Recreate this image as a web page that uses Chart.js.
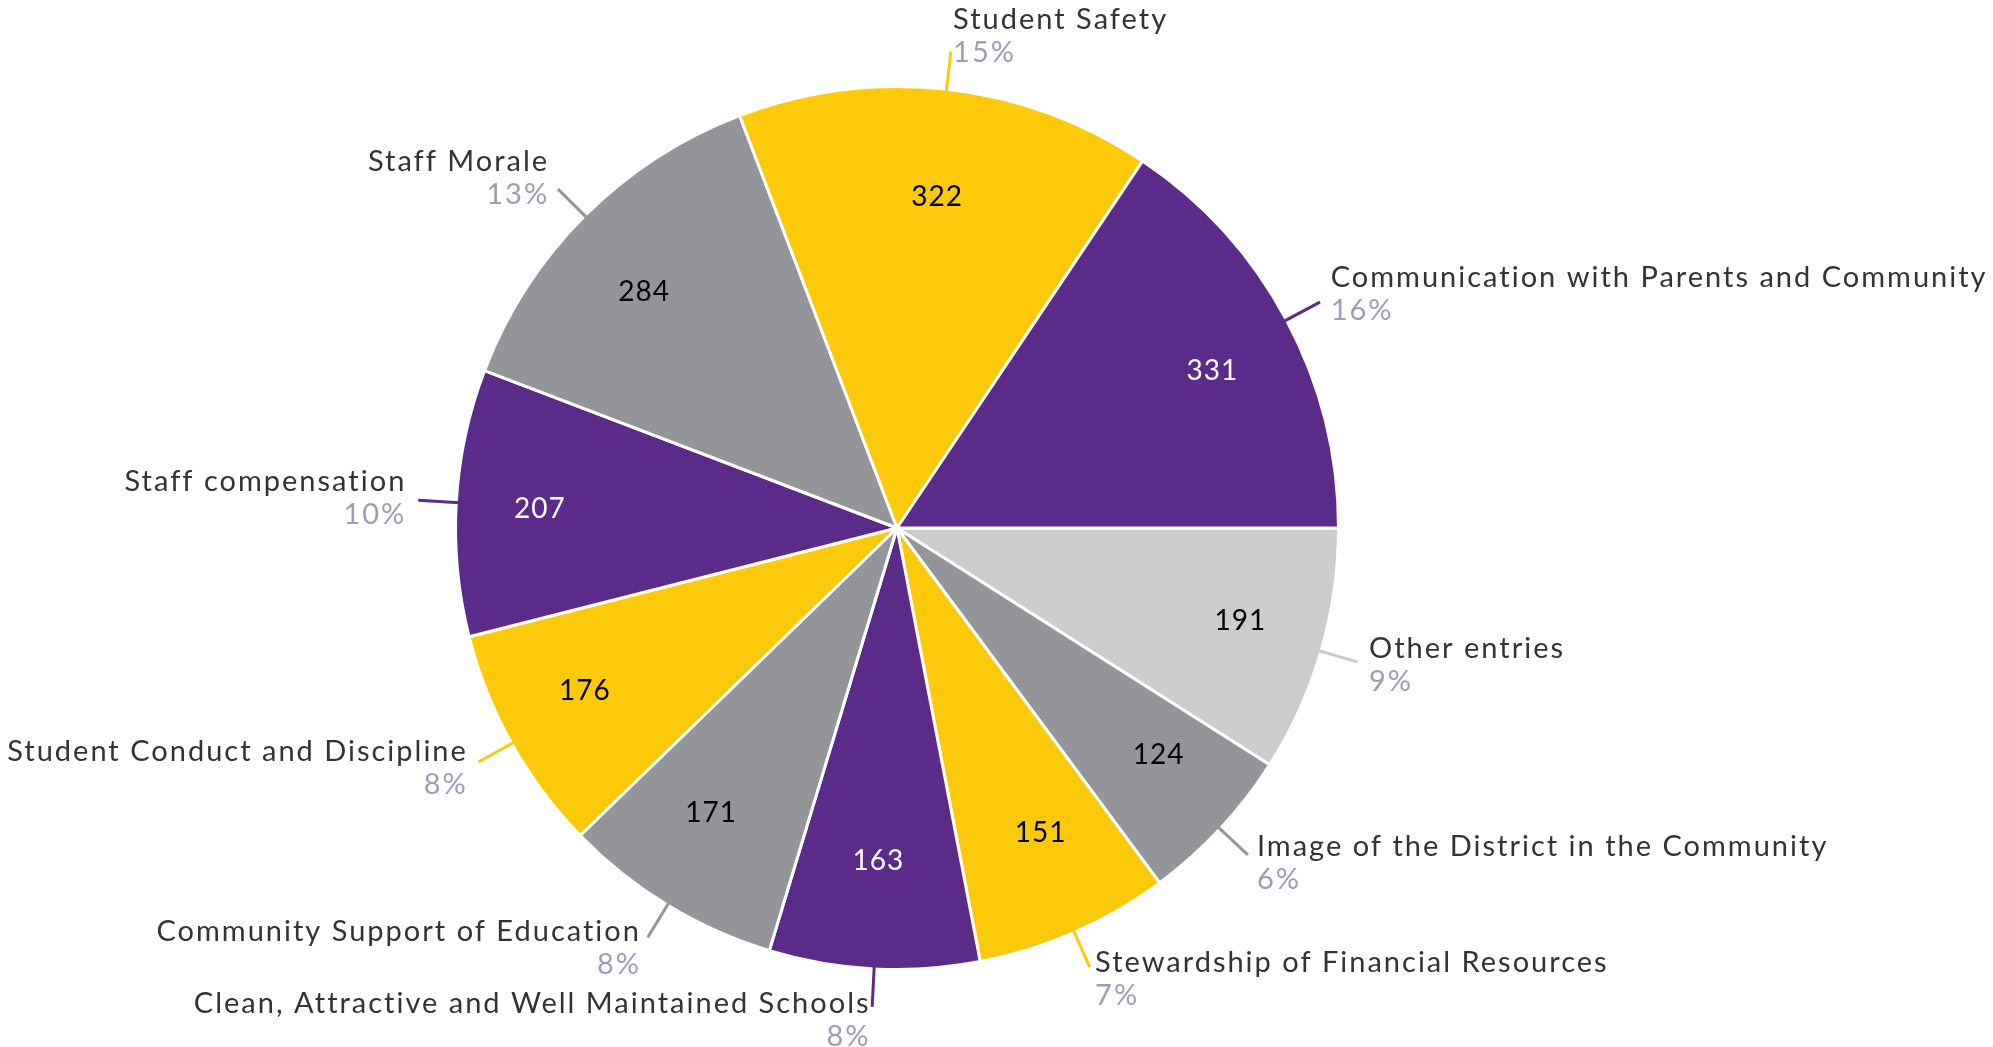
<!DOCTYPE html>
<html>
<head>
<meta charset="utf-8">
<title>Top topics</title>
<script src="https://cdn.jsdelivr.net/npm/chart.js@4.4.0/dist/chart.umd.min.js"></script>
<style>
    html, body { margin: 0; padding: 0; background: #fff; }
    #wrap { width: 1993px; height: 1047px; position: relative; }
</style>
</head>
<body>
<div id="wrap"><canvas id="myPie"></canvas></div>
<script>
// slices in clockwise order, starting at 3 o'clock
const topics = ['Other entries', 'Image of the District in the Community', 'Stewardship of Financial Resources',
    'Clean, Attractive and Well Maintained Schools', 'Community Support of Education', 'Student Conduct and Discipline',
    'Staff compensation', 'Staff Morale', 'Student Safety', 'Communication with Parents and Community'];
const counts = [191, 124, 151, 163, 171, 176, 207, 284, 322, 331];

const PURPLE = '#5c2b89';
const YELLOW = '#fdca0b';
const GRAY = '#939598';
const LIGHT = '#cccccc';
const sliceColors = [LIGHT, GRAY, YELLOW, PURPLE, GRAY, YELLOW, PURPLE, GRAY, YELLOW, PURPLE];
const valueColors = ['#000', '#000', '#000', '#fff', '#000', '#000', '#fff', '#000', '#000', '#fff'];

const FONT = 'Lato, "Open Sans", sans-serif';

const total = counts.reduce((a, b) => a + b, 0);

// draws values inside and name + percent outside with a short tick line
const pieLabels = {
    id: 'pieLabels',
    afterDatasetsDraw(chart) {
        const c = chart.ctx;
        const meta = chart.getDatasetMeta(0);
        meta.data.forEach(function (arc, i) {
            const mid = (arc.startAngle + arc.endAngle) / 2;
            const cos = Math.cos(mid), sin = Math.sin(mid);
            const r = arc.outerRadius;

            // value inside
            c.save();
            c.font = '28px ' + FONT;
            c.letterSpacing = '1px';
            c.fillStyle = valueColors[i];
            c.textAlign = 'center';
            c.textBaseline = 'middle';
            c.fillText(String(counts[i]), arc.x + cos * r * 0.81, arc.y + sin * r * 0.755);

            // tick line
            const x0 = arc.x + cos * (r - 3), y0 = arc.y + sin * (r - 3);
            const x1 = arc.x + cos * (r + 38), y1 = arc.y + sin * (r + 38);
            c.strokeStyle = sliceColors[i];
            c.lineWidth = 3;
            c.beginPath();
            c.moveTo(x0, y0);
            c.lineTo(x1, y1);
            c.stroke();

            // name and percent
            const right = cos >= 0;
            const gap = 1 + 11 * Math.abs(cos);
            const tx = right ? x1 + gap : x1 - gap;
            const cy = y1 - 1 + 14 * sin;
            c.font = '29px ' + FONT;
            c.letterSpacing = '2px';
            c.textAlign = right ? 'left' : 'right';
            c.fillStyle = '#333333';
            c.fillText(topics[i], tx, cy - 16.5);
            c.fillStyle = '#9d9db8';
            c.fillText(Math.round(counts[i] / total * 100) + '%', tx, cy + 16.5);
            c.restore();
        });
    }
};

new Chart(document.getElementById('myPie'), {
    type: 'pie',
    data: {
        labels: topics,
        datasets: [{
            data: counts,
            backgroundColor: sliceColors,
            borderColor: '#ffffff',
            borderWidth: 3
        }]
    },
    options: {
        responsive: true,
        maintainAspectRatio: false,
        animation: false,
        rotation: 90,
        layout: {
            padding: { left: 454, right: 653, top: 85, bottom: 76 }
        },
        plugins: {
            legend: { display: false },
            tooltip: { enabled: false }
        }
    },
    plugins: [pieLabels]
});
</script>
</body>
</html>
